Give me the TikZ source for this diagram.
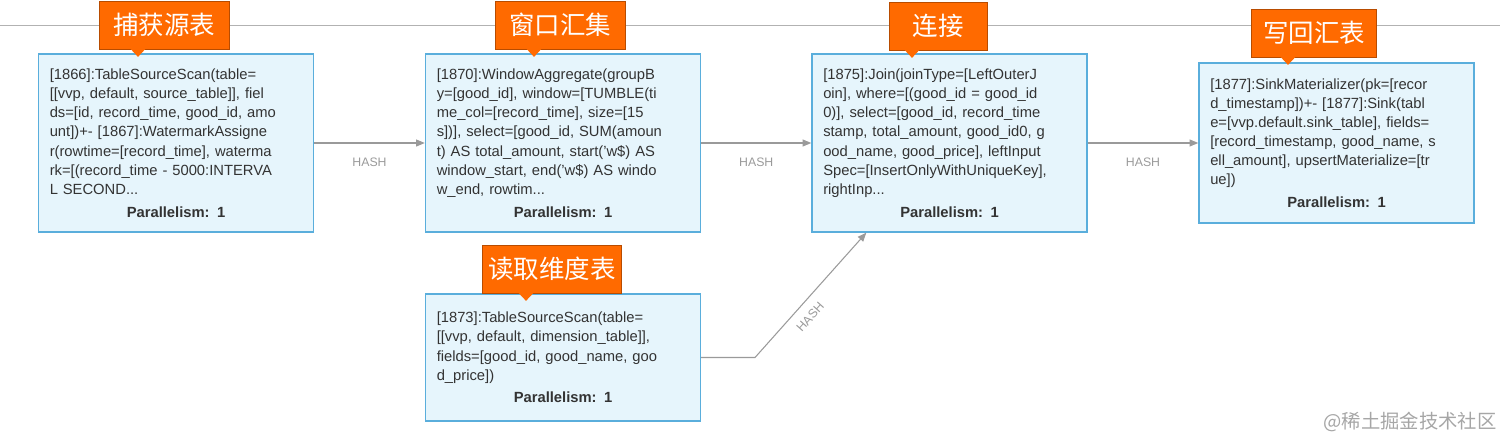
\documentclass[tikz,border=0pt]{standalone}
\usepackage{fontspec}
\setmainfont{Liberation Sans}
\newfontfamily\cjk{Noto Sans CJK SC}
\usetikzlibrary{calc,arrows.meta}
\definecolor{boxfill}{HTML}{E6F5FC}
\definecolor{boxline}{HTML}{5AAEDC}
\definecolor{tagfill}{HTML}{FF6A00}
\definecolor{tagline}{HTML}{B84C00}
\definecolor{edge}{HTML}{9A9A9A}
\newcommand{\para}{\par\vspace{2pt}\makebox[\linewidth]{\bfseries Parallelism: 1}}

\begin{document}
\begin{tikzpicture}[
  block/.style={draw=boxline, fill=boxfill, line width=0.8pt, minimum width=5.5cm, text width=5.05cm,
    align=left, inner sep=0pt, font=\fontsize{8.4}{10.9}\selectfont, text=black!80},
  tag/.style={draw=tagline, fill=tagfill, line width=0.4pt, minimum height=0.96cm, text=white,
    font=\cjk\fontsize{14.5}{16}\selectfont},
  flow/.style={-{Triangle[length=5pt,width=4pt]}, edge, line width=0.6pt},
  hash/.style={text=edge, font=\fontsize{7}{8}\selectfont}]

  \useasboundingbox (0,0) rectangle (30,8.94);

  % top rule
  \draw[black!30, line width=0.5pt] (0,8.44) -- (30,8.44);

  % Blocks
  \node[block, minimum height=3.56cm] (A) at (3.52,6.08) {[1866]:TableSourceScan(table=\\{}[[vvp, default, source\_table]], fiel\\{}ds=[id, record\_time, good\_id, amo\\{}unt])+- [1867]:WatermarkAssigne\\{}r(rowtime=[record\_time], waterma\\{}rk=[(record\_time - 5000:INTERVA\\{}L SECOND...\para};
  \node[block, minimum height=3.56cm] (B) at (11.26,6.08) {[1870]:WindowAggregate(groupB\\{}y=[good\_id], window=[TUMBLE(ti\\{}me\_col=[record\_time], size=[15\\{}s])], select=[good\_id, SUM(amoun\\{}t) AS total\_amount, start('w\$) AS\\{}window\_start, end('w\$) AS windo\\{}w\_end, rowtim...\para};
  \node[block, minimum height=3.56cm] (C) at (18.99,6.08) {[1875]:Join(joinType=[LeftOuterJ\\{}oin], where=[(good\_id = good\_id\\{}0)], select=[good\_id, record\_time\\{}stamp, total\_amount, good\_id0, g\\{}ood\_name, good\_price], leftInput\\{}Spec=[InsertOnlyWithUniqueKey],\\{}rightInp...\para};
  \node[block, minimum height=3.2cm] (D) at (26.73,6.08) {[1877]:SinkMaterializer(pk=[recor\\{}d\_timestamp])+- [1877]:Sink(tabl\\{}e=[vvp.default.sink\_table], fields=\\{}[record\_timestamp, good\_name, s\\{}ell\_amount], upsertMaterialize=[tr\\{}ue])\para};
  \node[block, minimum height=2.54cm] (E) at (11.26,1.79) {[1873]:TableSourceScan(table=\\{}[[vvp, default, dimension\_table]],\\{}fields=[good\_id, good\_name, goo\\{}d\_price])\para};

  % Tags
  \node[tag, minimum width=2.6cm] (TA) at (3.28,8.44) {捕获源表};
  \node[tag, minimum width=2.6cm] (TB) at (11.2,8.44) {窗口汇集};
  \node[tag, minimum width=1.96cm] (TC) at (18.76,8.42) {连接};
  \node[tag, minimum width=2.5cm] (TD) at (26.28,8.28) {写回汇表};
  \node[tag, minimum width=2.6cm] (TE) at (11.04,3.56) {读取维度表};
  \foreach \t in {TA,TB,TC,TD,TE}
    \fill[tagfill] ($(\t.south)+(-0.68,0.02)$) -- ++(0.32,0) -- ++(-0.16,-0.17) -- cycle;

  % Edges
  \draw[flow] (A.east) -- node[hash, below=5pt] {HASH} (B.west);
  \draw[flow] (B.east) -- node[hash, below=5pt] {HASH} (C.west);
  \draw[flow] (C.east) -- node[hash, below=5pt] {HASH} (D.west);
  \coordinate (bend) at (15.1,1.79);
  \coordinate (Cin) at ($(C.south west)+(1.1,0)$);
  \draw[flow] (E.east) -- (bend) -- node[hash, sloped, pos=0.4, below=2pt] {HASH} (Cin);

  % watermark
  \node[text=black!35, font=\cjk\fontsize{11}{12}\selectfont] (wm) at (28.2,0.5) {@稀土掘金技术社区};

\end{tikzpicture}
\end{document}
